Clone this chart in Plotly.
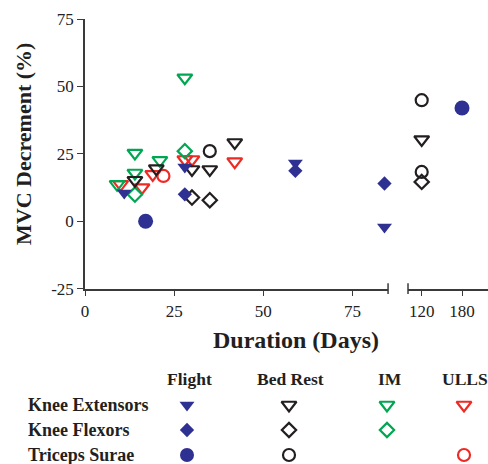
import plotly.graph_objects as go

# ---------------- data ----------------
groups = ["Flight", "Bed Rest", "IM", "ULLS"]
muscles = ["Knee Extensors", "Knee Flexors", "Triceps Surae"]

# short durations (first x segment, 0-85 days)
flight_ke_days = [11, 28, 59, 84]
flight_ke = [10.5, 20.1, 21.6, -2.1]
flight_kf_days = [28, 59, 84]
flight_kf = [10.0, 18.7, 14.0]
flight_ts_days = [17]
flight_ts = [0.0]

br_ke_days = [14, 20, 30, 35, 42]
br_ke = [15.2, 19.5, 19.2, 19.2, 29.2]
br_kf_days = [30, 35]
br_kf = [8.8, 7.8]
br_ts_days = [35]
br_ts = [26.0]

im_ke_days = [9, 14, 14, 21, 28]
im_ke = [13.7, 17.9, 25.3, 22.6, 53.2]
im_kf_days = [14, 28]
im_kf = [9.9, 26.0]

ulls_ke_days = [10, 16, 19, 28, 30, 42]
ulls_ke = [13.7, 12.5, 17.4, 22.9, 22.9, 22.1]
ulls_ts_days = [22]
ulls_ts = [16.8]

# long durations (second x segment)
flight_ts_long_days = [180]
flight_ts_long = [42.0]
br_ke_long_days = [120]
br_ke_long = [30.3]
br_kf_long_days = [120]
br_kf_long = [14.6]
br_ts_long_days = [120, 120]
br_ts_long = [44.9, 18.3]

y_ticks = [-25, 0, 25, 50, 75]
y_ticktext = ["-25", "0", "25", "50", "75"]
x_ticks = [0, 25, 50, 75]
x2_ticks = [120, 180]

# ---------------- styles ----------------
NAVY = "#2E3192"
BLACK = "#231F20"
GREEN = "#00A651"
RED = "#EE2A24"
FONT = "Liberation Serif"
W, H = 488, 464
PLOT_L, PLOT_T = 85, 19       # plot-area corner in pixels
ML, MT, MR, MB = PLOT_L, PLOT_T, 0, 0
PW, PH = W - ML - MR, H - MT - MB


def px_x(x):
    return (x - PLOT_L) / PW


def px_y(y):
    return (H - MB - y) / PH


group_color = {"Flight": NAVY, "Bed Rest": BLACK, "IM": GREEN, "ULLS": RED}
muscle_symbol = {"Knee Extensors": "triangle-down", "Knee Flexors": "diamond",
                 "Triceps Surae": "circle"}
muscle_size = {"Knee Extensors": 13, "Knee Flexors": 11, "Triceps Surae": 12}


def marker(group, muscle):
    filled = group == "Flight"
    sym = muscle_symbol[muscle] + ("" if filled else "-open")
    size = muscle_size[muscle]
    if filled and muscle == "Triceps Surae":
        size = 15
    return dict(symbol=sym, size=size, color=group_color[group],
                line=dict(width=0 if filled else 2.2, color=group_color[group]))


series = [
    ("ULLS", "Knee Extensors", ulls_ke_days, ulls_ke, "x"),
    ("ULLS", "Triceps Surae", ulls_ts_days, ulls_ts, "x"),
    ("IM", "Knee Extensors", im_ke_days, im_ke, "x"),
    ("IM", "Knee Flexors", im_kf_days, im_kf, "x"),
    ("Bed Rest", "Knee Extensors", br_ke_days, br_ke, "x"),
    ("Bed Rest", "Knee Flexors", br_kf_days, br_kf, "x"),
    ("Bed Rest", "Triceps Surae", br_ts_days, br_ts, "x"),
    ("Bed Rest", "Knee Extensors", br_ke_long_days, br_ke_long, "x2"),
    ("Bed Rest", "Knee Flexors", br_kf_long_days, br_kf_long, "x2"),
    ("Bed Rest", "Triceps Surae", br_ts_long_days, br_ts_long, "x2"),
    ("Flight", "Knee Extensors", flight_ke_days, flight_ke, "x"),
    ("Flight", "Knee Flexors", flight_kf_days, flight_kf, "x"),
    ("Flight", "Triceps Surae", flight_ts_days, flight_ts, "x"),
    ("Flight", "Triceps Surae", flight_ts_long_days, flight_ts_long, "x2"),
]

fig = go.Figure()
for g, m, xs, ys, xa in series:
    fig.add_trace(go.Scatter(x=xs, y=ys, mode="markers", xaxis=xa, yaxis="y",
                             marker=marker(g, m), showlegend=False,
                             cliponaxis=False))

# ---------------- custom legend table ----------------
# legend sub-axis uses pixel layout units
legend_col_x = {"Flight": 187, "Bed Rest": 289, "IM": 387, "ULLS": 464}
legend_row_y = {"Knee Extensors": 405, "Knee Flexors": 430, "Triceps Surae": 455}
legend_header_y = 379
legend_entries = {
    "Knee Extensors": ["Flight", "Bed Rest", "IM", "ULLS"],
    "Knee Flexors": ["Flight", "Bed Rest", "IM"],
    "Triceps Surae": ["Flight", "Bed Rest", "ULLS"],
}
for m in muscles:
    for g in legend_entries[m]:
        mk = marker(g, m)
        if m == "Triceps Surae" and g == "Flight":
            mk["size"] = 14
        fig.add_trace(go.Scatter(x=[legend_col_x[g]], y=[legend_row_y[m]],
                                 mode="markers", xaxis="x3", yaxis="y3",
                                 marker=mk, showlegend=False, cliponaxis=False,
                                 hoverinfo="skip"))

annotations = []
header_offset = {"Flight": 2, "Bed Rest": 1, "IM": 3, "ULLS": 1}
for g in groups:
    annotations.append(dict(x=px_x(legend_col_x[g] + header_offset[g]),
                            y=px_y(legend_header_y),
                            xref="paper", yref="paper", text="<b>%s</b>" % g,
                            showarrow=False, xanchor="center", yanchor="middle",
                            font=dict(family=FONT, size=17.5, color=BLACK)))
for m in muscles:
    annotations.append(dict(x=px_x(26), y=px_y(legend_row_y[m]),
                            xref="paper", yref="paper",
                            text="<b>%s</b>" % m, showarrow=False,
                            xanchor="left", yanchor="middle",
                            font=dict(family=FONT, size=18, color=BLACK)))

# axis titles
annotations.append(dict(x=px_x(296), y=px_y(340), xref="paper", yref="paper",
                        text="<b>Duration (Days)</b>", showarrow=False,
                        xanchor="center", yanchor="middle",
                        font=dict(family=FONT, size=24, color=BLACK)))
annotations.append(dict(x=px_x(23), y=px_y(144), xref="paper", yref="paper",
                        text="<b>MVC Decrement (%)</b>", showarrow=False,
                        textangle=-90, xanchor="center", yanchor="middle",
                        font=dict(family=FONT, size=22, color=BLACK)))

AX = "#3a3a3a"
tickfont = dict(family=FONT, size=17, color="#222222")
common = dict(showline=True, linecolor=AX, linewidth=1.5, ticks="outside",
              ticklen=6, tickwidth=1.3, tickcolor=AX, showgrid=False,
              zeroline=False, tickfont=tickfont)

# axis-break end bars
shapes = [
    dict(type="line", xref="x domain", yref="y domain", x0=1, x1=1,
         y0=-0.02, y1=0.02, line=dict(color=AX, width=1.5)),
    dict(type="line", xref="x2 domain", yref="y domain", x0=0, x1=0,
         y0=-0.02, y1=0.02, line=dict(color=AX, width=1.5)),
]

legend_dom = [0, 0.2]
fig.update_layout(
    width=W, height=H,
    margin=dict(l=ML, r=MR, t=MT, b=MB, autoexpand=False),
    paper_bgcolor="white", plot_bgcolor="rgba(0,0,0,0)",
    xaxis=dict(domain=[0, 0.752], range=[0, 85], tickvals=x_ticks, anchor="y",
               **common),
    xaxis2=dict(domain=[0.8015, 1], range=[99.6, 218.7], tickvals=x2_ticks,
                anchor="y", **common),
    yaxis=dict(domain=[0.394, 1], range=[-25, 75], tickvals=y_ticks,
               ticktext=y_ticktext, anchor="x", **common),
    xaxis3=dict(domain=[0, 1], range=[PLOT_L, W - MR], visible=False,
                anchor="y3"),
    yaxis3=dict(domain=legend_dom, visible=False, anchor="x3",
                range=[H - MB, H - MB - legend_dom[1] * PH]),
    annotations=annotations,
    shapes=shapes,
    showlegend=False,
)

fig.write_html(
    "out.html",
    config={"displayModeBar": False},
    post_script="document.body.style.margin='0';"
                "document.body.style.overflow='hidden';",
)
